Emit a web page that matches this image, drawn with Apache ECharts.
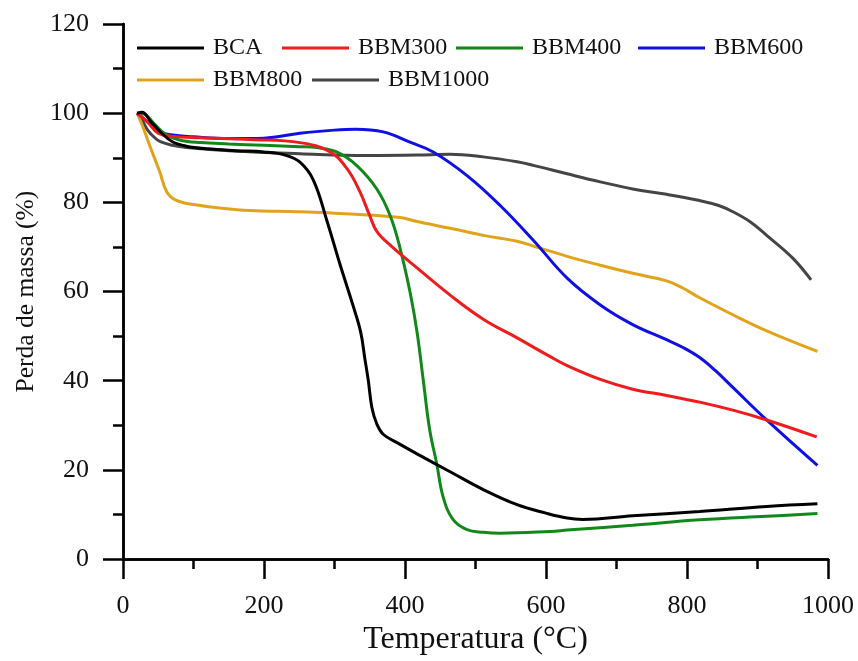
<!DOCTYPE html>
<html><head><meta charset="utf-8">
<script src="https://cdn.jsdelivr.net/npm/echarts@6/dist/echarts.min.js"></script>
<style>html,body{margin:0;padding:0;background:#fff}#c{width:858px;height:661px}</style>
</head><body><div id="c"></div>
<script>
const seriesNames = ['BCA','BBM300','BBM400','BBM600','BBM800','BBM1000'];
const xTicks = [0,200,400,600,800,1000];
const yTicks = [0,20,40,60,80,100,120];
const bca = [[20,100],[27,100.2],[40,98],[55,95.5],[70,93.6],[90,92.6],[120,92.0],[160,91.6],[200,91.3],[230,90.6],[251,89],[270,85],[289,76],[308,66],[326,57],[337,51],[343,45],[348,40],[353,34],[360,30.3],[369,28],[390,26],[417,23.6],[464,19.6],[511,15.6],[559,12.2],[600,10.3],[630,9.2],[652,8.9],[723,9.7],[818,10.7],[913,11.8],[985,12.4]];
const bbm300 = [[20,100],[35,98],[50,95.5],[70,94.8],[110,94.5],[180,94.1],[251,93.4],[294,91.3],[318,87.5],[336,82.4],[350,77],[360,73.5],[379,70.4],[417,65.3],[464,59.2],[511,53.8],[559,49.6],[606,45.4],[630,43.4],[677,40.3],[723,38.1],[771,36.7],[818,35.2],[865,33.4],[913,31.2],[984,27.4]];
const bbm400 = [[20,100],[30,99.8],[45,97.5],[60,95.3],[80,94],[110,93.4],[150,93.1],[200,92.8],[250,92.5],[275,92.3],[303,91.3],[332,88.2],[360,83],[379,77],[393,69.7],[407,60],[417,51],[426,40],[435,29],[445,21.4],[454,14],[468,8.9],[488,6.6],[511,6.0],[535,5.8],[606,6.2],[630,6.5],[723,7.6],[818,8.8],[913,9.6],[985,10.2]];
const bbm600 = [[20,100],[35,98],[50,96],[65,95.2],[100,94.7],[150,94.3],[200,94.4],[251,95.5],[300,96.2],[330,96.4],[369,95.8],[407,93.5],[440,91.3],[488,86],[535,79.3],[582,71.5],[630,63],[677,57],[723,52.6],[771,49.2],[795,47.4],[818,45.2],[840,42.3],[865,38.5],[913,31.2],[985,21.0]];
const bbm800 = [[20,100],[28,97],[38,92.7],[52,86.9],[62,82.4],[75,80.5],[100,79.5],[140,78.7],[180,78.2],[251,77.9],[322,77.4],[393,76.6],[417,75.7],[464,74.2],[511,72.6],[559,71.3],[582,70.2],[630,67.9],[677,65.9],[723,64.1],[771,62.4],[794,60.8],[818,58.6],[865,54.8],[913,51.2],[985,46.6]];
const bbm1000 = [[20,100],[27,98.5],[35,96.2],[45,94.5],[53,93.6],[70,92.8],[90,92.3],[156,91.5],[251,90.9],[346,90.5],[417,90.6],[464,90.8],[511,90.2],[559,89.1],[582,88.3],[630,86.4],[677,84.6],[723,83],[771,81.8],[818,80.4],[845,79.3],[865,77.9],[890,75.6],[913,72.6],[950,67.5],[976,62.6]];

const dataSets = [bca,bbm300,bbm400,bbm600,bbm800,bbm1000];
const colors = ['#000000','#ee1c1c','#13881a','#1010e6','#e0a41c','#454545'];
const legendPos = [[137,36],[282,36],[456,36],[638,36],[137,68],[312,68]];
const F = '"Liberation Serif","Times New Roman",serif';

const chart = echarts.init(document.getElementById('c'));
const axisLine = {show:true, lineStyle:{color:'#000', width:2.5}};
chart.setOption({
  animation:false,
  backgroundColor:'#fff',
  grid:{left:123, top:24, width:705, height:539, containLabel:false},
  legend: seriesNames.map((n,i)=>({
    data:[n], left:legendPos[i][0], top:legendPos[i][1], icon:'rect', padding:0,
    itemWidth:67, itemHeight:3, itemGap:0,
    textStyle:{fontFamily:F, fontSize:24, color:'#111', padding:[0,0,0,4]}
  })),
  xAxis:[{
    type:'value', min:0, max:1000, interval:200, position:'bottom',
    axisLine, splitLine:{show:false},
    axisTick:{show:true, length:20, inside:false, lineStyle:{width:2.5, color:'#000'}},
    minorTick:{show:true, splitNumber:2, length:10, lineStyle:{width:2.5, color:'#000'}},
    axisLabel:{fontFamily:F, fontSize:26, color:'#111', margin:34, formatter:v=>xTicks.includes(v)?String(v):''},
    name:'Temperatura (°C)', nameLocation:'middle', nameGap:43,
    nameTextStyle:{fontFamily:F, fontSize:32, color:'#111', verticalAlign:'top'}
  },{
    type:'value', min:0, max:1000, position:'top', axisLine,
    axisTick:{show:false}, axisLabel:{show:false}, splitLine:{show:false}
  }],
  yAxis:[{
    type:'value', min:0, max:120, interval:20, position:'left',
    axisLine, splitLine:{show:false},
    axisTick:{show:true, length:20, inside:false, lineStyle:{width:2.5, color:'#000'}},
    minorTick:{show:true, splitNumber:2, length:10, lineStyle:{width:2.5, color:'#000'}},
    axisLabel:{fontFamily:F, fontSize:26, color:'#111', margin:34, formatter:v=>yTicks.includes(v)?String(v):''},
    name:'Perda de massa (%)', nameLocation:'middle', nameGap:78,
    nameTextStyle:{fontFamily:F, fontSize:25.5, color:'#111'}
  },{
    type:'value', min:0, max:120, position:'right', axisLine,
    axisTick:{show:false}, axisLabel:{show:false}, splitLine:{show:false}
  }],
  series: seriesNames.map((n,i)=>({
    name:n, type:'line', data:dataSets[i], showSymbol:false, symbol:'none',
    smooth:0.4, color:colors[i],
    lineStyle:{width:3, color:colors[i]}, z: 10-i
  }))
});
</script></body></html>
